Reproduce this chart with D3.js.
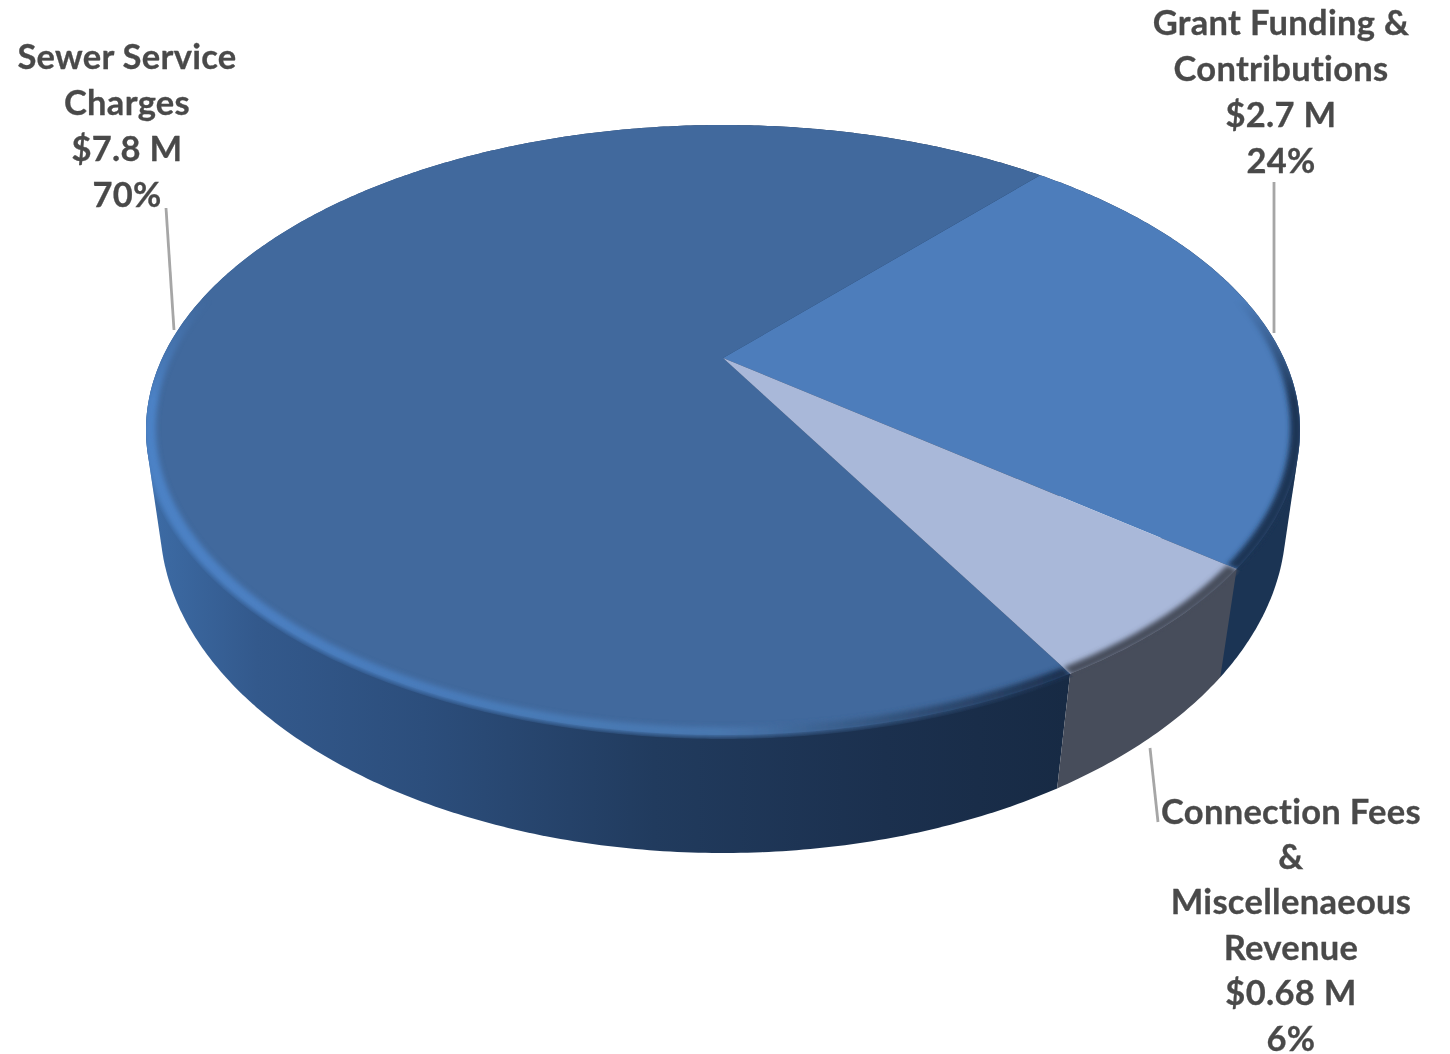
<!DOCTYPE html>
<html>
<head>
<meta charset="utf-8">
<script src="https://cdn.jsdelivr.net/npm/d3@7"></script>
<style>
    html, body { margin: 0; padding: 0; background: #fff; }
    svg { display: block; }
    .label { font-family: Lato, "Open Sans", sans-serif; font-weight: 700; font-size: 34.5px; letter-spacing: 0.3px; fill: #4a4a4a; stroke: #4a4a4a; stroke-width: 0.3; text-anchor: middle; }
    .leader { fill: none; stroke: #a6a6a6; stroke-width: 2.8; }
</style>
</head>
<body>
<svg id="chart"></svg>
<script>
// values, in pie order (clockwise from the top right seam)
var categories = ["Grant Funding", "Connection Fees", "Sewer Service"];
var values = [2.7, 0.68, 7.8];
var amountLabels = ["$2.7 M", "$0.68 M", "$7.8 M"];
var percentLabels = ["24%", "6%", "70%"];
var nameLines = [
    ["Grant Funding &", "Contributions"],
    ["Connection Fees", "&", "Miscellenaeous", "Revenue"],
    ["Sewer Service", "Charges"]
];

var topColors = ["#4d7dbb", "#a9b8d9", "#41699d"];
var sideColors = ["#1b3454", "#474d5b", "url(#sewerSide)"];
var rimColors = ["#1b3454", "#474d5b", "url(#sewerRim)"];

var width = 1450;
var height = 1054;

// perspective planes of the disc: ellipse centre, radii and vanishing factor
var topPlane = { cx: 723, cy: 430, rx: 577, ry: 305, k: 0.236 };
var bottomPlane = { cx: 723, cy: 522, rx: 563, ry: 331, k: 0.22 };

function project(plane, angle, r) {
    var u = r * Math.sin(angle);
    var v = -r * Math.cos(angle);
    var w = 1 - plane.k * v;
    var a = plane.rx * Math.sqrt(1 - plane.k * plane.k);
    var b = plane.ry * (1 - plane.k * plane.k);
    return [plane.cx + a * u / w, plane.cy - plane.k * plane.ry + b * v / w];
}

function arcPoints(plane, start, end, r) {
    var steps = Math.ceil((end - start) / 0.01);
    return d3.range(steps + 1).map(function(i) {
        return project(plane, start + (end - start) * i / steps, r);
    });
}

var svg = d3.select("#chart").attr("width", width).attr("height", height);
var defs = svg.append("defs");
var line = d3.line();

function addGradient(id, stops) {
    var g = defs.append("linearGradient")
        .attr("id", id)
        .attr("gradientUnits", "userSpaceOnUse")
        .attr("x1", 146).attr("x2", 1070).attr("y1", 0).attr("y2", 0);
    stops.forEach(function(s) {
        g.append("stop").attr("offset", s[0]).attr("stop-color", s[1]);
    });
}

addGradient("sewerSide", [[0, "#3d6ca6"], [0.12, "#33598c"], [0.3, "#2c4e7c"], [0.55, "#213b5e"], [0.8, "#1b304e"], [1, "#172a44"]]);
addGradient("sewerRim", [[0, "#4c82c6"], [0.25, "#4a7dbd"], [0.62, "#4a78b0"], [0.8, "#34557f"], [1, "#1c304e"]]);

// the rim only shows on the front of the disc
var rimFade = defs.append("linearGradient")
    .attr("id", "rimFade")
    .attr("gradientUnits", "userSpaceOnUse")
    .attr("x1", 0).attr("x2", 0).attr("y1", 300).attr("y2", 400);
rimFade.append("stop").attr("offset", 0).attr("stop-color", "#000");
rimFade.append("stop").attr("offset", 1).attr("stop-color", "#fff");
defs.append("mask")
    .attr("id", "rimMask")
    .attr("maskUnits", "userSpaceOnUse")
    .attr("x", 0).attr("y", 0).attr("width", width).attr("height", height)
    .append("rect")
    .attr("width", width).attr("height", height)
    .attr("fill", "url(#rimFade)");

defs.append("filter").attr("id", "soft").attr("x", "-5%").attr("y", "-5%").attr("width", "110%").attr("height", "110%")
    .append("feGaussianBlur").attr("stdDeviation", 2.4);
defs.append("filter").attr("id", "textSoft")
    .append("feGaussianBlur").attr("stdDeviation", 0.45);

var slices = d3.pie().sort(null).startAngle(41.7 * Math.PI / 180).endAngle((360 + 41.7) * Math.PI / 180)(values);

// whole outline of the disc, keeps the blurred rim off the white page
var fullTurn = 2 * Math.PI;
defs.append("clipPath")
    .attr("id", "outline")
    .append("path")
    .attr("d", line(d3.polygonHull(arcPoints(topPlane, 0, fullTurn, 1).concat(arcPoints(bottomPlane, 0, fullTurn, 1)))) + "Z");

// side walls: the long slice goes first, as a hull, so the outline runs straight
// from the top ellipse down to the bottom one
var sideOrder = [2, 0, 1];
svg.append("g").selectAll("path")
    .data(sideOrder)
    .enter()
    .append("path")
    .attr("d", function(i) {
        var d = slices[i];
        var upper = arcPoints(topPlane, d.startAngle, d.endAngle, 1);
        var lower = arcPoints(bottomPlane, d.startAngle, d.endAngle, 1);
        if (i === 1) return line(upper.concat(lower.reverse())) + "Z";
        return line(d3.polygonHull(upper.concat(lower))) + "Z";
    })
    .attr("fill", function(i) { return sideColors[i]; });

function slicePath(d, r) {
    var apex = project(topPlane, 0, 0);
    return line([apex].concat(arcPoints(topPlane, d.startAngle, d.endAngle, r))) + "Z";
}

// top faces, each clipped so the soft rim stays on its own slice
defs.selectAll("clipPath.slice")
    .data(slices)
    .enter()
    .append("clipPath")
    .attr("class", "slice")
    .attr("id", function(d, i) { return "slice" + i; })
    .append("path")
    .attr("d", function(d) { return slicePath(d, 1.008); });

var drawOrder = [2, 0, 1];
var faces = svg.append("g").selectAll("g")
    .data(drawOrder)
    .enter()
    .append("g");

faces.append("path")
    .attr("d", function(i) { return slicePath(slices[i], 1); })
    .attr("fill", function(i) { return topColors[i]; });

faces.append("g")
    .attr("clip-path", "url(#outline)")
    .append("g")
    .attr("clip-path", function(i) { return "url(#slice" + i + ")"; })
    .append("g")
    .attr("mask", "url(#rimMask)")
    .append("path")
    .attr("d", function(i) {
        var d = slices[i];
        var outer = arcPoints(topPlane, d.startAngle, d.endAngle, 1.004);
        var inner = arcPoints(topPlane, d.startAngle, d.endAngle, 0.984).reverse();
        return line(outer.concat(inner)) + "Z";
    })
    .attr("fill", function(i) { return rimColors[i]; })
    .attr("filter", "url(#soft)");

// leaders
var leaders = [
    [[1274, 182], [1274, 333]],
    [[1150, 748], [1158, 822]],
    [[166, 208], [174, 330]]
];
svg.append("g").selectAll("path")
    .data(leaders)
    .enter()
    .append("path")
    .attr("class", "leader")
    .attr("d", line);

// labels
var labelX = [1281, 1291, 127];
var labelY = [34.5, 823.5, 68.5];
var labelStep = [46.2, 45.4, 46.2];
categories.forEach(function(name, i) {
    var rows = nameLines[i].concat([amountLabels[i], percentLabels[i]]);
    svg.append("g")
        .attr("filter", "url(#textSoft)")
        .selectAll("text")
        .data(rows)
        .enter()
        .append("text")
        .attr("class", "label")
        .attr("x", labelX[i])
        .attr("y", function(d, j) { return labelY[i] + j * labelStep[i]; })
        .text(function(d) { return d; });
});
</script>
</body>
</html>
